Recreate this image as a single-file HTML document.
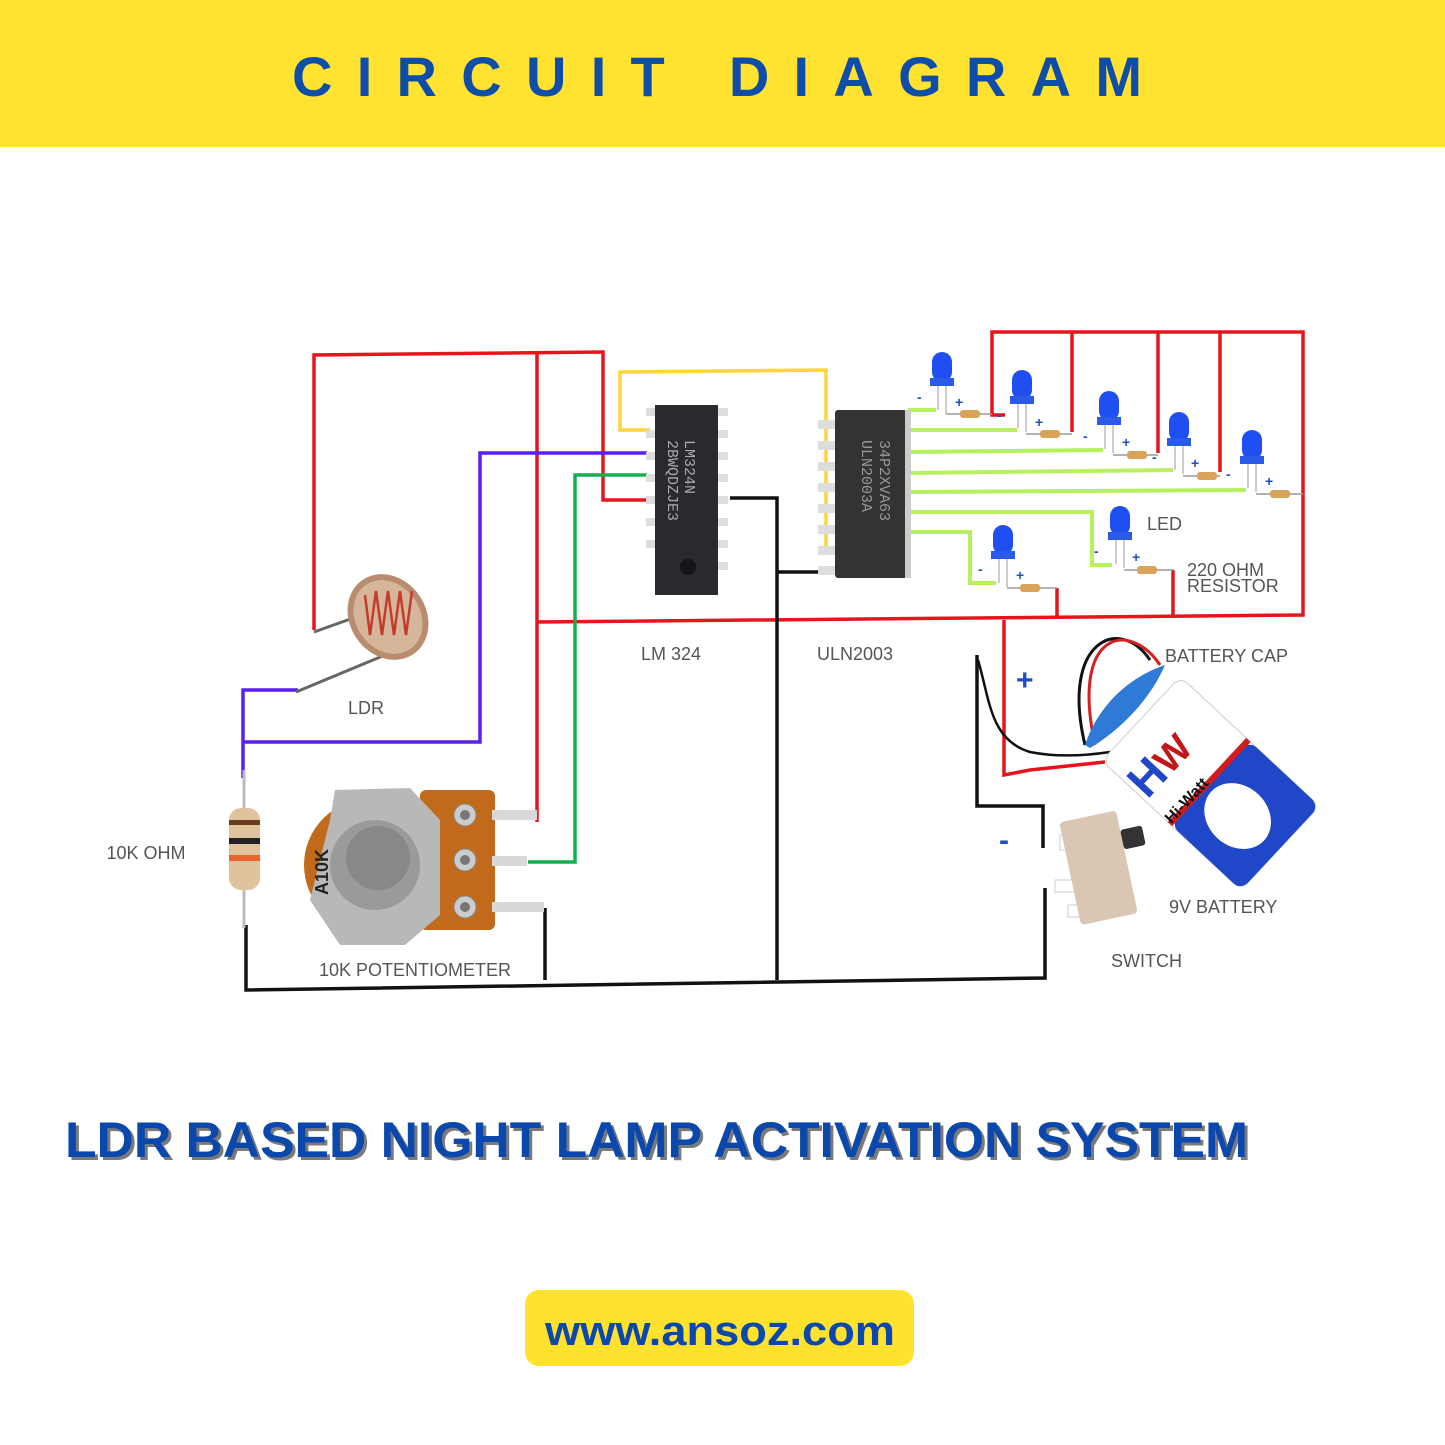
<!DOCTYPE html>
<html><head><meta charset="utf-8"><style>
html,body{margin:0;padding:0;background:#fff}
svg{display:block}
</style></head><body>
<svg width="1445" height="1445" viewBox="0 0 1445 1445" xmlns="http://www.w3.org/2000/svg" font-family="Liberation Sans, sans-serif">
<rect width="1445" height="1445" fill="#fff"/>
<rect width="1445" height="147" fill="#FFE330"/>
<text x="732" y="96" text-anchor="middle" font-size="56" font-weight="bold" fill="#0F4DAA" letter-spacing="30" textLength="880" lengthAdjust="spacing">CIRCUIT  DIAGRAM</text>

<g fill="none" stroke-width="3.5" stroke-linejoin="miter">
<polyline stroke="#E8141C" points="314,630 314,355 603,352 603,500 650,500"/>
<polyline stroke="#E8141C" points="537,352 537,822"/>
<polyline stroke="#E8141C" points="537,622 1303,615 1303,332 992,332 992,415 1005,415"/>
<polyline stroke="#E8141C" points="1072,332 1072,432"/>
<polyline stroke="#E8141C" points="1158,332 1158,453"/>
<polyline stroke="#E8141C" points="1220,332 1220,472"/>
<polyline stroke="#E8141C" points="1057,617 1057,588"/>
<polyline stroke="#E8141C" points="1173,616 1173,570"/>
<polyline stroke="#E8141C" points="1004,620 1004,775 1030,770 1105,762"/>
<polyline stroke="#5B1FF0" points="298,690 243,690 243,778"/>
<polyline stroke="#5B1FF0" points="243,742 480,742 480,453 647,453"/>
<polyline stroke="#10B050" points="647,475 575,475 575,862 528,862"/>
<polyline stroke="#FFD438" points="650,430 620,430 620,372 826,370 826,552"/>
<polyline stroke="#111" points="730,498 777,498 777,980"/>
<polyline stroke="#111" points="777,572 822,572"/>
<polyline stroke="#111" points="246,925 246,990 1045,978 1045,888"/>
<polyline stroke="#111" points="545,908 545,980"/>
<polyline stroke="#111" points="977,655 977,806 1043,806 1043,848"/>
<path stroke="#111" stroke-width="2.5" d="M978,660 C990,700 990,740 1030,752 C1060,758 1090,755 1110,752"/>
<g stroke="#B8F060" stroke-width="4">
<polyline points="908,410 936,410"/>
<polyline points="908,430 1017,430"/>
<polyline points="908,452 1103,450"/>
<polyline points="908,473 1173,470"/>
<polyline points="908,492 1246,490"/>
<polyline points="908,512 1092,512 1092,565 1112,565"/>
<polyline points="908,532 970,532 970,583 996,583"/>
</g>
</g>

<g>
<g fill="#ddd">
<rect x="646" y="408" width="10" height="8"/><rect x="646" y="430" width="10" height="8"/><rect x="646" y="452" width="10" height="8"/><rect x="646" y="474" width="10" height="8"/><rect x="646" y="496" width="10" height="8"/><rect x="646" y="518" width="10" height="8"/><rect x="646" y="540" width="10" height="8"/>
<rect x="716" y="408" width="12" height="8"/><rect x="716" y="430" width="12" height="8"/><rect x="716" y="452" width="12" height="8"/><rect x="716" y="474" width="12" height="8"/><rect x="716" y="496" width="12" height="8"/><rect x="716" y="518" width="12" height="8"/><rect x="716" y="540" width="12" height="8"/><rect x="716" y="562" width="12" height="8"/>
</g>
<rect x="655" y="405" width="63" height="190" fill="#2a2a2e"/>
<circle cx="688" cy="567" r="8" fill="#151517"/>
<text transform="translate(668,440) rotate(90)" font-family="Liberation Mono, monospace" font-size="15" fill="#aaa">2BWQDZJE3</text>
<text transform="translate(685,440) rotate(90)" font-family="Liberation Mono, monospace" font-size="15" fill="#aaa">LM324N</text>
</g>

<g>
<g fill="#ddd">
<rect x="818" y="420" width="18" height="9"/><rect x="818" y="441" width="18" height="9"/><rect x="818" y="462" width="18" height="9"/><rect x="818" y="483" width="18" height="9"/><rect x="818" y="504" width="18" height="9"/><rect x="818" y="525" width="18" height="9"/><rect x="818" y="546" width="18" height="9"/><rect x="818" y="566" width="18" height="9"/>
</g>
<rect x="835" y="410" width="72" height="168" fill="#333336" rx="3"/>
<rect x="905" y="410" width="6" height="168" fill="#ccc"/>
<text transform="translate(880,440) rotate(90)" font-family="Liberation Mono, monospace" font-size="15" fill="#999">34P2XVA63</text>
<text transform="translate(862,440) rotate(90)" font-family="Liberation Mono, monospace" font-size="15" fill="#999">ULN2003A</text>
</g>

<g>
<g transform="translate(942,352)">
<rect x="-10" y="0" width="20" height="30" rx="10" fill="#1f4ff0"/><rect x="-12" y="26" width="24" height="8" fill="#2c5ae8"/>
<line x1="-4" y1="34" x2="-4" y2="58" stroke="#ccc" stroke-width="2"/><line x1="4" y1="34" x2="4" y2="62" stroke="#ccc" stroke-width="2"/>
</g>
<g transform="translate(1022,370)">
<rect x="-10" y="0" width="20" height="30" rx="10" fill="#1f4ff0"/><rect x="-12" y="26" width="24" height="8" fill="#2c5ae8"/>
<line x1="-4" y1="34" x2="-4" y2="58" stroke="#ccc" stroke-width="2"/><line x1="4" y1="34" x2="4" y2="62" stroke="#ccc" stroke-width="2"/>
</g>
<g transform="translate(1109,391)">
<rect x="-10" y="0" width="20" height="30" rx="10" fill="#1f4ff0"/><rect x="-12" y="26" width="24" height="8" fill="#2c5ae8"/>
<line x1="-4" y1="34" x2="-4" y2="58" stroke="#ccc" stroke-width="2"/><line x1="4" y1="34" x2="4" y2="62" stroke="#ccc" stroke-width="2"/>
</g>
<g transform="translate(1179,412)">
<rect x="-10" y="0" width="20" height="30" rx="10" fill="#1f4ff0"/><rect x="-12" y="26" width="24" height="8" fill="#2c5ae8"/>
<line x1="-4" y1="34" x2="-4" y2="58" stroke="#ccc" stroke-width="2"/><line x1="4" y1="34" x2="4" y2="62" stroke="#ccc" stroke-width="2"/>
</g>
<g transform="translate(1252,430)">
<rect x="-10" y="0" width="20" height="30" rx="10" fill="#1f4ff0"/><rect x="-12" y="26" width="24" height="8" fill="#2c5ae8"/>
<line x1="-4" y1="34" x2="-4" y2="58" stroke="#ccc" stroke-width="2"/><line x1="4" y1="34" x2="4" y2="62" stroke="#ccc" stroke-width="2"/>
</g>
<g transform="translate(1120,506)">
<rect x="-10" y="0" width="20" height="30" rx="10" fill="#1f4ff0"/><rect x="-12" y="26" width="24" height="8" fill="#2c5ae8"/>
<line x1="-4" y1="34" x2="-4" y2="58" stroke="#ccc" stroke-width="2"/><line x1="4" y1="34" x2="4" y2="62" stroke="#ccc" stroke-width="2"/>
</g>
<g transform="translate(1003,525)">
<rect x="-10" y="0" width="20" height="30" rx="10" fill="#1f4ff0"/><rect x="-12" y="26" width="24" height="8" fill="#2c5ae8"/>
<line x1="-4" y1="34" x2="-4" y2="58" stroke="#ccc" stroke-width="2"/><line x1="4" y1="34" x2="4" y2="62" stroke="#ccc" stroke-width="2"/>
</g>
</g>
<g stroke="#999" stroke-width="1.5">
<line x1="946" y1="414" x2="992" y2="414"/><line x1="1026" y1="434" x2="1072" y2="434"/>
<line x1="1113" y1="455" x2="1158" y2="455"/><line x1="1183" y1="476" x2="1220" y2="476"/>
<line x1="1256" y1="494" x2="1303" y2="494"/><line x1="1124" y1="570" x2="1173" y2="570"/>
<line x1="1007" y1="588" x2="1057" y2="588"/>
</g>
<g fill="#d9a35a">
<rect x="960" y="410" width="20" height="8" rx="3"/><rect x="1040" y="430" width="20" height="8" rx="3"/>
<rect x="1127" y="451" width="20" height="8" rx="3"/><rect x="1197" y="472" width="20" height="8" rx="3"/>
<rect x="1270" y="490" width="20" height="8" rx="3"/><rect x="1137" y="566" width="20" height="8" rx="3"/>
<rect x="1020" y="584" width="20" height="8" rx="3"/>
</g>
<g fill="#1f4fc0" font-size="14" font-weight="bold">
<text x="917" y="402">-</text><text x="955" y="407">+</text>
<text x="997" y="420">-</text><text x="1035" y="427">+</text>
<text x="1083" y="441">-</text><text x="1122" y="447">+</text>
<text x="1152" y="462">-</text><text x="1191" y="468">+</text>
<text x="1226" y="479">-</text><text x="1265" y="486">+</text>
<text x="1094" y="556">-</text><text x="1132" y="562">+</text>
<text x="978" y="574">-</text><text x="1016" y="580">+</text>
</g>

<g>
<line x1="314" y1="632" x2="370" y2="612" stroke="#666" stroke-width="3"/>
<line x1="296" y1="692" x2="385" y2="655" stroke="#666" stroke-width="3"/>
<ellipse cx="388" cy="617" rx="38" ry="45" transform="rotate(-35 388 617)" fill="#b98c70"/>
<ellipse cx="388" cy="617" rx="32" ry="39" transform="rotate(-35 388 617)" fill="#d6b69a"/>
<path d="M365,595 l5,40 l6,-44 l6,44 l6,-44 l6,44 l6,-44 l6,44 l6,-44" fill="none" stroke="#c63a2a" stroke-width="2.5"/>
</g>

<g>
<line x1="244" y1="770" x2="244" y2="928" stroke="#bbb" stroke-width="3"/>
<rect x="229" y="808" width="31" height="82" rx="12" fill="#e0c39c"/>
<rect x="229" y="820" width="31" height="5" fill="#6b3b22"/>
<rect x="229" y="838" width="31" height="6" fill="#222"/>
<rect x="229" y="855" width="31" height="6" fill="#e8642a"/>
</g>

<g>
<rect x="420" y="790" width="75" height="140" rx="6" fill="#c16a1c"/>
<g fill="#d8d8d8">
<rect x="492" y="810" width="45" height="10"/><rect x="492" y="856" width="35" height="10"/><rect x="492" y="902" width="52" height="10"/>
</g>
<circle cx="465" cy="815" r="11" fill="#ccc" stroke="#888"/><circle cx="465" cy="815" r="5" fill="#777"/>
<circle cx="465" cy="860" r="11" fill="#ccc" stroke="#888"/><circle cx="465" cy="860" r="5" fill="#777"/>
<circle cx="465" cy="907" r="11" fill="#ccc" stroke="#888"/><circle cx="465" cy="907" r="5" fill="#777"/>
<circle cx="370" cy="865" r="66" fill="#c16a1c"/>
<polygon points="335,790 410,788 440,820 440,915 405,945 340,945 310,900 330,820" fill="#b8b8b8"/>
<circle cx="375" cy="865" r="45" fill="#9a9a9a"/>
<circle cx="378" cy="858" r="32" fill="#888"/>
<text transform="translate(328,895) rotate(-90)" font-size="18" font-weight="bold" fill="#222">A10K</text>
</g>

<g>
<path d="M1085,745 C1060,640 1120,615 1150,660" fill="none" stroke="#111" stroke-width="3"/>
<path d="M1095,745 C1070,630 1130,620 1160,665" fill="none" stroke="#d42020" stroke-width="3"/>
<g transform="rotate(-47 1211 783)">
<rect x="1153" y="688" width="115" height="190" rx="10" fill="#fff" stroke="#ccc"/>
<rect x="1153" y="782" width="115" height="96" rx="10" fill="#1f47c8"/>
<rect x="1153" y="778" width="115" height="6" fill="#d21c1c"/>
<ellipse cx="1205" cy="825" rx="30" ry="36" fill="#fff"/>
</g>
<text x="1130" y="790" font-size="46" font-weight="bold" fill="#1f47c8" transform="rotate(-47 1150 775)">H</text>
<text x="1163" y="790" font-size="38" font-weight="bold" fill="#c01818" transform="rotate(-47 1150 775)">W</text>
<text x="1160" y="812" font-size="16" font-weight="bold" fill="#111" transform="rotate(-47 1180 805)">Hi-Watt</text>
<text x="1255" y="875" font-size="8" fill="#fff" transform="rotate(-47 1280 850)">GENERAL PURPOSE</text>
<path d="M1085,745 C1100,700 1135,675 1165,665 C1150,700 1120,730 1090,748 Z" fill="#2e7ad6"/>
</g>

<g>
<rect x="1060" y="835" width="40" height="15" fill="#fff" stroke="#ccc"/>
<rect x="1055" y="880" width="45" height="12" fill="#fff" stroke="#ccc"/>
<rect x="1068" y="905" width="40" height="12" fill="#fff" stroke="#ccc"/>
<g transform="rotate(-12 1100 870)">
<rect x="1070" y="815" width="58" height="105" rx="4" fill="#d9c7b4"/>
<rect x="1128" y="835" width="22" height="20" rx="3" fill="#333"/>
</g>
</g>
<text x="1016" y="690" font-size="30" font-weight="bold" fill="#1f4fc0">+</text>
<text x="999" y="850" font-size="30" font-weight="bold" fill="#1f4fc0">-</text>

<g fill="#555" font-size="18">
<text x="366" y="714" text-anchor="middle">LDR</text>
<text x="671" y="660" text-anchor="middle">LM 324</text>
<text x="855" y="660" text-anchor="middle">ULN2003</text>
<text x="146" y="859" text-anchor="middle">10K OHM</text>
<text x="415" y="976" text-anchor="middle">10K POTENTIOMETER</text>
<text x="1147" y="530">LED</text>
<text x="1187" y="576">220 OHM</text>
<text x="1187" y="592">RESISTOR</text>
<text x="1165" y="662">BATTERY CAP</text>
<text x="1169" y="913">9V BATTERY</text>
<text x="1111" y="967">SWITCH</text>
</g>

<text x="68" y="1160" font-size="50" font-weight="bold" fill="#7a7a7a" textLength="1183" lengthAdjust="spacingAndGlyphs">LDR BASED NIGHT LAMP ACTIVATION SYSTEM</text>
<text x="65" y="1157" font-size="50" font-weight="bold" fill="#0A48AD" textLength="1183" lengthAdjust="spacingAndGlyphs">LDR BASED NIGHT LAMP ACTIVATION SYSTEM</text>

<rect x="525" y="1290" width="389" height="76" rx="14" fill="#FFE12E"/>
<text x="720" y="1345" text-anchor="middle" font-size="42" font-weight="bold" fill="#0A48AD" textLength="350" lengthAdjust="spacingAndGlyphs">www.ansoz.com</text>
</svg>
</body></html>
